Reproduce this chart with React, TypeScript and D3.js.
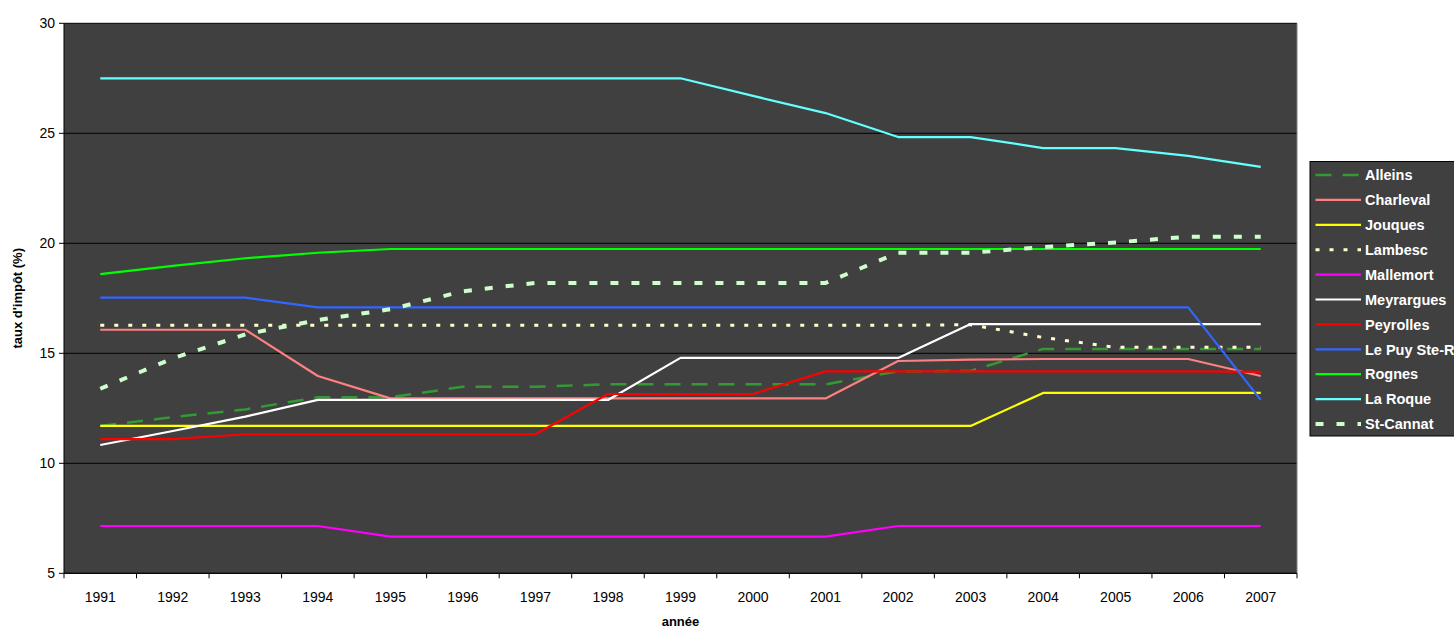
import * as d3 from "d3";

const YEARS = [
  "1991", "1992", "1993", "1994", "1995", "1996", "1997", "1998", "1999",
  "2000", "2001", "2002", "2003", "2004", "2005", "2006", "2007",
];

const ALLEINS = [11.7, 12.1, 12.45, 13.0, 13.0, 13.48, 13.48, 13.59, 13.59, 13.59, 13.59, 14.18, 14.2, 15.2, 15.2, 15.2, 15.2];
const CHARLEVAL = [16.07, 16.07, 16.07, 13.97, 12.95, 12.95, 12.95, 12.95, 12.95, 12.95, 12.95, 14.65, 14.71, 14.74, 14.74, 14.74, 13.97];
const JOUQUES = [11.7, 11.7, 11.7, 11.7, 11.7, 11.7, 11.7, 11.7, 11.7, 11.7, 11.7, 11.7, 11.7, 13.2, 13.2, 13.2, 13.2];
const LAMBESC = [16.27, 16.27, 16.27, 16.27, 16.27, 16.27, 16.27, 16.27, 16.27, 16.27, 16.27, 16.27, 16.3, 15.72, 15.27, 15.27, 15.27];
const MALLEMORT = [7.15, 7.15, 7.15, 7.15, 6.67, 6.67, 6.67, 6.67, 6.67, 6.67, 6.67, 7.15, 7.15, 7.15, 7.15, 7.15, 7.15];
const MEYRARGUES = [10.83, 11.47, 12.12, 12.88, 12.88, 12.88, 12.88, 12.88, 14.79, 14.79, 14.79, 14.79, 16.33, 16.33, 16.33, 16.33, 16.33];
const PEYROLLES = [11.1, 11.1, 11.32, 11.32, 11.32, 11.32, 11.32, 13.15, 13.15, 13.15, 14.18, 14.18, 14.18, 14.18, 14.18, 14.18, 14.16];
const LE_PUY = [17.53, 17.53, 17.53, 17.09, 17.09, 17.09, 17.09, 17.09, 17.09, 17.09, 17.09, 17.09, 17.09, 17.09, 17.09, 17.09, 12.88];
const ROGNES = [18.6, 18.97, 19.32, 19.57, 19.74, 19.74, 19.74, 19.74, 19.74, 19.74, 19.74, 19.74, 19.74, 19.74, 19.74, 19.74, 19.74];
const LA_ROQUE = [27.5, 27.5, 27.5, 27.5, 27.5, 27.5, 27.5, 27.5, 27.5, 26.7, 25.92, 24.83, 24.83, 24.33, 24.33, 23.97, 23.47];
const ST_CANNAT = [13.39, 14.77, 15.86, 16.51, 17.0, 17.82, 18.2, 18.2, 18.2, 18.2, 18.2, 19.57, 19.57, 19.83, 20.04, 20.3, 20.3];

const Y_TICKS = [5, 10, 15, 20, 25, 30];

const SERIES = [
  { name: "Alleins", values: ALLEINS, color: "#339933", width: 2.5, dash: "16,11" },
  { name: "Charleval", values: CHARLEVAL, color: "#ff8080", width: 2.2, dash: null },
  { name: "Jouques", values: JOUQUES, color: "#ffff00", width: 2.2, dash: null },
  { name: "Lambesc", values: LAMBESC, color: "#ffffcc", width: 3, dash: "4,10" },
  { name: "Mallemort", values: MALLEMORT, color: "#ff00ff", width: 2.2, dash: null },
  { name: "Meyrargues", values: MEYRARGUES, color: "#ffffff", width: 2.2, dash: null },
  { name: "Peyrolles", values: PEYROLLES, color: "#ff0000", width: 2.2, dash: null },
  { name: "Le Puy Ste-Réparade", values: LE_PUY, color: "#3366ff", width: 2.2, dash: null },
  { name: "Rognes", values: ROGNES, color: "#00ff00", width: 2.2, dash: null },
  { name: "La Roque", values: LA_ROQUE, color: "#66ffff", width: 2.2, dash: null },
  { name: "St-Cannat", values: ST_CANNAT, color: "#ccffcc", width: 4, dash: "8,13" },
];

const W = 1454;
const H = 628;
const PLOT = { left: 64, right: 1297, top: 23.3, bottom: 573.3 };
const FONT = "'Liberation Sans', Arial, sans-serif";

export default function App() {
  const x = d3.scaleBand().domain(YEARS).range([PLOT.left, PLOT.right]);
  const cx = (yr: string) => (x(yr) ?? 0) + x.bandwidth() / 2;
  const y = d3.scaleLinear().domain([5, 30]).range([PLOT.bottom, PLOT.top]);

  const line = d3
    .line<[string, number]>()
    .x((d) => cx(d[0]))
    .y((d) => y(d[1]));

  const tickXs = YEARS.map((yr) => x(yr) ?? 0).concat([PLOT.right]);

  const legendX = 1310;
  const legendY = 161.5;
  const rowH = 24.9;

  return (
    <div style={{ width: W, height: H, overflow: "hidden", position: "absolute", left: 0, top: 0 }}>
      <svg width={W} height={H} style={{ display: "block", background: "#fff" }} fontFamily={FONT}>
        <rect
          x={PLOT.left}
          y={PLOT.top}
          width={PLOT.right - PLOT.left}
          height={PLOT.bottom - PLOT.top}
          fill="#404040"
        />
        {/* gridlines */}
        {Y_TICKS.map((t) => (
          <line key={t} x1={PLOT.left} x2={PLOT.right} y1={y(t)} y2={y(t)} stroke="#000" strokeWidth={1} />
        ))}
        <line x1={PLOT.right} x2={PLOT.right} y1={PLOT.top} y2={PLOT.bottom} stroke="#808080" strokeWidth={1} />

        {/* y axis */}
        <line x1={PLOT.left} x2={PLOT.left} y1={PLOT.top} y2={PLOT.bottom} stroke="#000" strokeWidth={1} />
        {Y_TICKS.map((t) => (
          <g key={`yt-${t}`}>
            <line x1={PLOT.left - 5} x2={PLOT.left} y1={y(t)} y2={y(t)} stroke="#000" />
            <text x={PLOT.left - 9} y={y(t)} dy="0.35em" textAnchor="end" fontSize={14} fill="#000">
              {t}
            </text>
          </g>
        ))}
        <text
          transform={`translate(22, ${(PLOT.top + PLOT.bottom) / 2}) rotate(-90)`}
          textAnchor="middle"
          fontSize={13}
          fontWeight="bold"
          fill="#000"
        >
          taux d'impôt (%)
        </text>

        {/* x axis */}
        <line x1={PLOT.left} x2={PLOT.right} y1={PLOT.bottom} y2={PLOT.bottom} stroke="#000" />
        {tickXs.map((tx, i) => (
          <line key={`xt-${i}`} x1={tx} x2={tx} y1={PLOT.bottom} y2={PLOT.bottom + 5} stroke="#000" />
        ))}
        {YEARS.map((yr) => (
          <text key={yr} x={cx(yr)} y={602} textAnchor="middle" fontSize={14} fill="#000">
            {yr}
          </text>
        ))}
        <text x={(PLOT.left + PLOT.right) / 2} y={626} textAnchor="middle" fontSize={13} fontWeight="bold" fill="#000">
          année
        </text>

        {/* series */}
        {SERIES.map((s) => (
          <path
            key={s.name}
            d={line(YEARS.map((yr, i) => [yr, s.values[i]] as [string, number])) ?? ""}
            fill="none"
            stroke={s.color}
            strokeWidth={s.width}
            strokeDasharray={s.dash ?? undefined}
            strokeLinejoin="round"
          />
        ))}

        {/* legend (clipped at the right edge, as in the original) */}
        <rect x={legendX} y={legendY} width={160} height={274.5} fill="#404040" stroke="#000" strokeWidth={1} />
        {SERIES.map((s, i) => {
          const ly = 175 + i * rowH;
          return (
            <g key={`lg-${s.name}`}>
              <line
                x1={1315.5}
                x2={1361}
                y1={ly}
                y2={ly}
                stroke={s.color}
                strokeWidth={s.width}
                strokeDasharray={s.dash ?? undefined}
              />
              <text x={1365} y={ly} dy="0.36em" fontSize={14.5} fontWeight="bold" fill="#fff">
                {s.name}
              </text>
            </g>
          );
        })}
      </svg>
    </div>
  );
}
